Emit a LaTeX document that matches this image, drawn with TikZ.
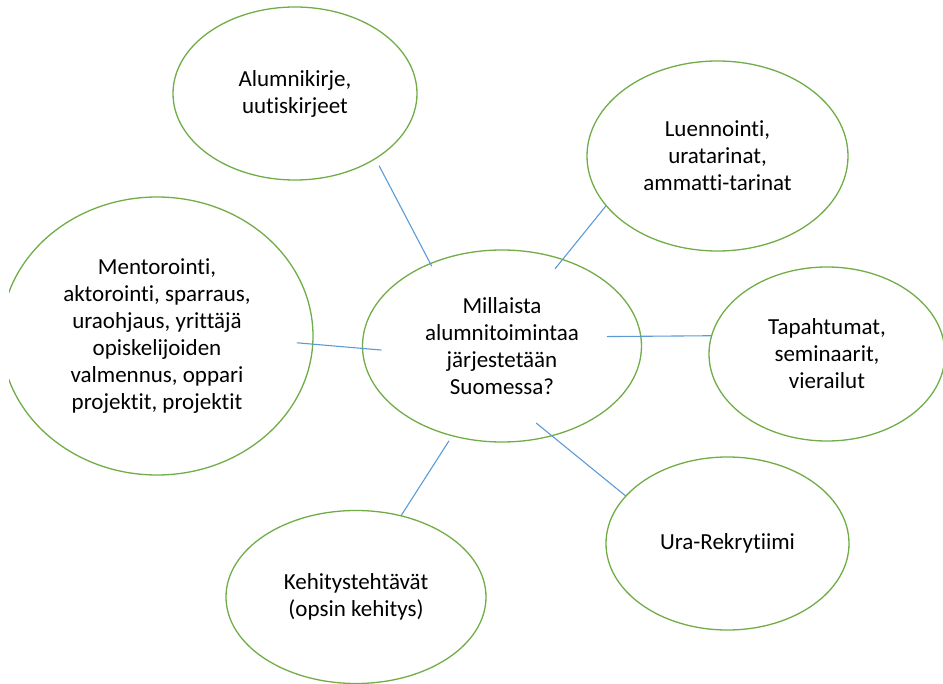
\documentclass[tikz,border=0pt]{standalone}
\usepackage{fontspec}
\setmainfont{Carlito}[Ligatures=NoCommon]
\usetikzlibrary{shapes.geometric}
\definecolor{kehagreen}{RGB}{112,173,71}
\definecolor{viivablue}{RGB}{91,155,213}
\begin{document}
\begin{tikzpicture}[x=1pt,y=-1pt,
    kupla/.style={shape=ellipse,draw=kehagreen,line width=1.3pt,inner sep=0pt,outer sep=0pt,
        align=center,font=\fontsize{23}{27}\selectfont},
    viiva/.style={draw=viivablue,line width=1.1pt}]
                \useasboundingbox (0,0) rectangle (943,684);
                \clip (9,0) rectangle (943,684);

                \node[kupla, minimum width=279pt, minimum height=192pt] (kysy) at (502,346) {Millaista\\alumnitoimintaa\\järjestetään\\Suomessa?};
                \node[kupla, minimum width=244pt, minimum height=173pt] (alum) at (295,93.5) {Alumnikirje,\\uutiskirjeet};
                \node[kupla, minimum width=261pt, minimum height=190pt] (luen) at (717.5,156) {Luennointi,\\uratarinat,\\ammatti-tarinat};
                \node[kupla, minimum width=236pt, minimum height=174pt] (tapa) at (827,354) {Tapahtumat,\\seminaarit,\\vierailut};
                \node[kupla, minimum width=243pt, minimum height=173pt] (ura) at (727.5,543.5) {Ura-Rekrytiimi};
                \node[kupla, minimum width=260pt, minimum height=173pt] (kehi) at (356,597) {Kehitystehtävät\\(opsin kehitys)};
                \node[kupla, minimum width=312pt, minimum height=278pt] (ment) at (157,336) {Mentorointi,\\aktorointi, sparraus,\\uraohjaus, yrittäjä\\opiskelijoiden\\valmennus, oppari\\projektit, projektit};

                \draw[viiva, shorten <=8pt, shorten >=-3pt] (alum.321.7) -- (kysy.131.9);
                \draw[viiva, shorten >=-12pt] (luen.204.4) -- (kysy.55.6);
                \draw[viiva, shorten >=-34pt] (tapa.171.1) -- (kysy.4.1);

                \draw[viiva, shorten >=-20pt] (ura.155.1) -- (kysy.299.3);
                \draw[viiva, shorten >=6pt] (kehi.61.5) -- (kysy.241.6);

                \draw[viiva, shorten <=-16pt, shorten >=-19pt] (ment.357.9) -- (kysy.181.9);
            \end{tikzpicture}
\end{document}
